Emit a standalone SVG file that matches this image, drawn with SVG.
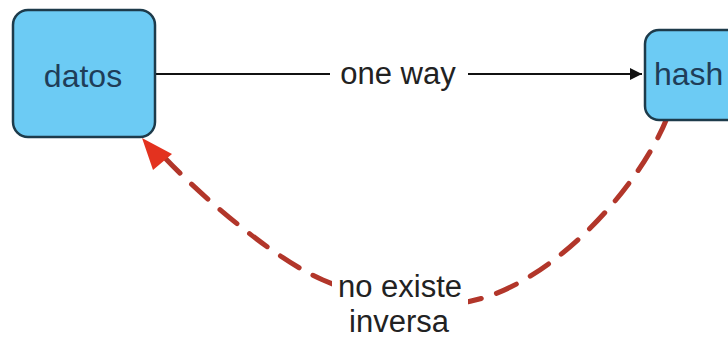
<svg xmlns="http://www.w3.org/2000/svg" width="728" height="339" viewBox="0 0 728 339">
<defs>
<style>
.box{fill:#6ccbf4;stroke:#1d3b4b;stroke-width:2.5}
.nt{font-family:"Liberation Sans",Arial,sans-serif;font-size:32px;fill:#1f3d58}
.lbl{font-family:"Liberation Sans",Arial,sans-serif;font-size:31px;fill:#222}
.dash{fill:none;stroke:#b2362a;stroke-width:5;stroke-dasharray:22 16;stroke-linecap:round}
</style>
<marker id="ah" viewBox="0 0 10 10" refX="10" refY="5" markerWidth="18" markerHeight="12" markerUnits="userSpaceOnUse" orient="auto">
<path d="M0,0 L10,5 L0,10 z" fill="#111"/>
</marker>
</defs>
<rect width="728" height="339" fill="#fff"/>
<g id="connectors">
<line x1="156" y1="74" x2="642" y2="74" stroke="#111" stroke-width="2" marker-end="url(#ah)"/>
<rect x="330" y="55" width="138" height="38" fill="#fff"/>
<text class="lbl" x="398" y="84" text-anchor="middle">one way</text>
<path class="dash" d="M667,118 C640,185 560,275 483,298 C420,316 370,300 323,280 C280,262 210,205 165,158"/>
<polygon points="142,138 172,154 153,170" fill="#e3321f"/>
<rect x="332" y="265" width="136" height="74" fill="#fff"/>
<text class="lbl" x="400" y="297" text-anchor="middle">no existe</text>
<text class="lbl" x="399" y="332" text-anchor="middle">inversa</text>
</g>
<g id="datos">
<rect class="box" x="13" y="10" width="142" height="127" rx="15"/>
<text class="nt" x="83" y="87" text-anchor="middle">datos</text>
</g>
<g id="hash">
<rect class="box" x="645" y="30" width="100" height="90" rx="14"/>
<text class="nt" x="654" y="85">hash</text>
</g>
</svg>
